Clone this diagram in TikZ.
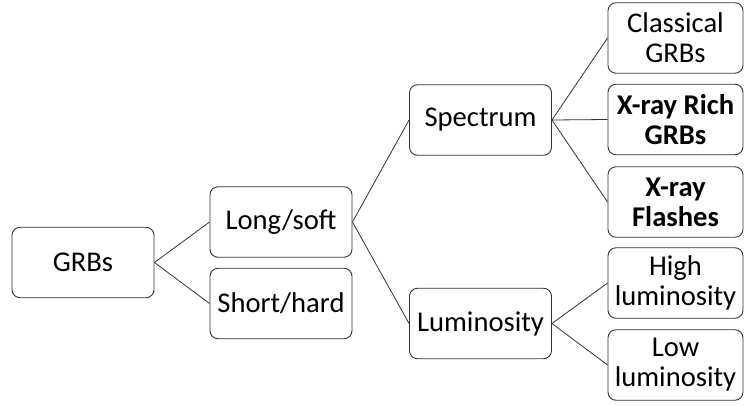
\documentclass[tikz,border=0pt]{standalone}
\usepackage{fontspec}
\setmainfont{Carlito}
\begin{document}
\begin{tikzpicture}[x=1pt,y=-1pt,
  box/.style={draw=black!80, line width=0.9pt, rounded corners=8pt, fill=white,
    minimum width=142pt, minimum height=70.5pt, inner sep=0pt, align=center,
    font=\fontsize{28.6}{30}\selectfont},
  rbox/.style={box, minimum width=135pt},
  link/.style={draw=black!80, line width=0.8pt}]
\useasboundingbox (0,0) rectangle (744,405);
\node[box] (grbs) at (83,262.5) {GRBs};
\node[box] (long) at (281,222) {Long/soft};
\node[box] (short) at (281,303.5) {Short/hard};
\node[box] (spec) at (480.5,120) {Spectrum};
\node[box] (lum) at (480.5,323.5) {Luminosity};
\node[rbox] (clas) at (675.5,38) {Classical\\GRBs};
\node[rbox] (rich) at (675.5,119.5) {\bfseries X-ray Rich\\\bfseries GRBs};
\node[rbox] (xrf) at (675.5,202) {\bfseries X-ray\\\bfseries Flashes};
\node[rbox] (high) at (675.5,283) {High\\luminosity};
\node[rbox] (low) at (675.5,365) {Low\\luminosity};
\draw[link] (grbs.east) -- (long.west);
\draw[link] (grbs.east) -- (short.west);
\draw[link] (long.east) -- (spec.west);
\draw[link] (long.east) -- (lum.west);
\draw[link] (spec.east) -- (clas.west);
\draw[link] (spec.east) -- (rich.west);
\draw[link] (spec.east) -- (xrf.west);
\draw[link] (lum.east) -- (high.west);
\draw[link] (lum.east) -- (low.west);
\end{tikzpicture}
\end{document}
